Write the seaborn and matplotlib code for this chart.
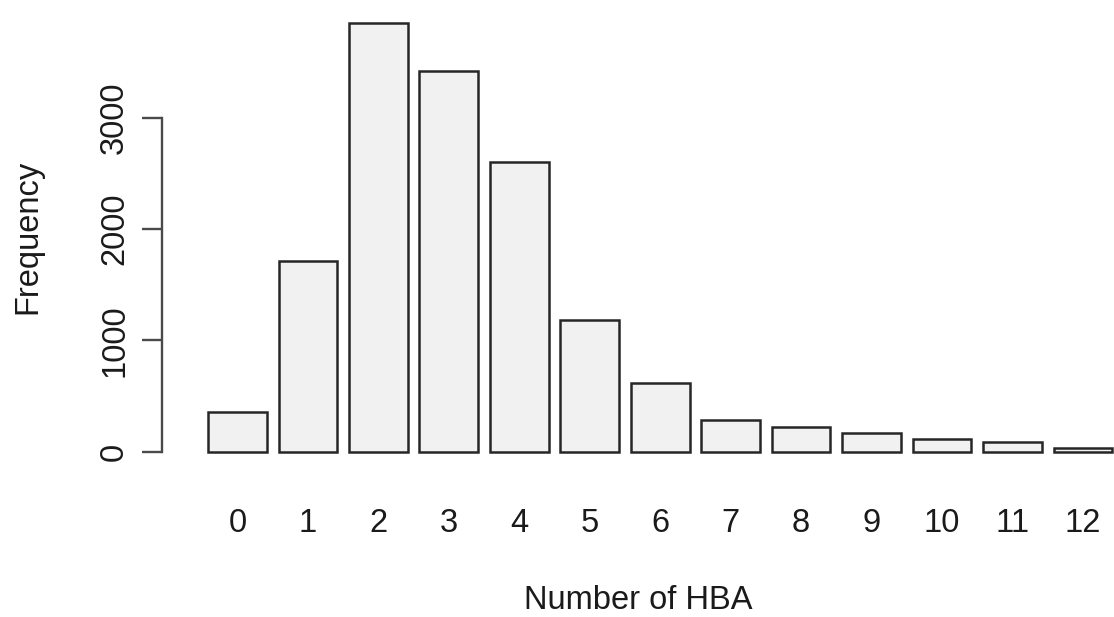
import matplotlib
matplotlib.use("Agg")
import matplotlib.pyplot as plt
import seaborn as sns
import pandas as pd

# ---- data ----
categories = ["0", "1", "2", "3", "4", "5", "6", "7", "8", "9", "10", "11", "12"]
frequency = [354, 1712, 3857, 3420, 2603, 1181, 620, 285, 219, 165, 111, 87, 30]
y_ticks = [0, 1000, 2000, 3000]
x_title = "Number of HBA"
y_title = "Frequency"

sns.set_theme(style="white")
plt.rcParams["font.family"] = ["Liberation Sans", "DejaVu Sans"]

W, H = 1114, 617
fig = plt.figure(figsize=(W / 100, H / 100), dpi=100)
fig.patch.set_facecolor("white")

# axes region in pixels (plot region)
left_px, right_px, top_px, bottom_px = 162, 1114, 5.5, 468.8
ax = fig.add_axes([left_px / W, 1 - bottom_px / H,
                   (right_px - left_px) / W, (bottom_px - top_px) / H])
ax.set_facecolor("white")

df = pd.DataFrame({"hba": categories, "freq": frequency})
sns.barplot(data=df, x="hba", y="freq", color="#f1f1f1", saturation=1,
            width=0.8333, edgecolor="#262626", linewidth=1.8, ax=ax)

ax.set_xlim(-1.0717, 12.442)
ax.set_ylim(-153.7, 4011.5)

for s in ["top", "right", "bottom"]:
    ax.spines[s].set_visible(False)
ax.spines["left"].set_bounds(0, 3000)
ax.spines["left"].set_color("#4a4a4a")
ax.spines["left"].set_linewidth(1.7)

txt = "#1a1a1a"
fs = 23.5
ax.set_yticks(y_ticks)
ax.set_yticklabels([str(v) for v in y_ticks], rotation=90, va="center",
                   fontsize=fs, color=txt)
ax.tick_params(axis="y", direction="out", length=14.4, width=1.7,
               color="#4a4a4a", pad=8.5, left=True)
ax.tick_params(axis="x", length=0, pad=28.0, labelsize=fs, labelcolor=txt)

ax.set_xlabel(x_title, fontsize=fs, color=txt)
ax.set_ylabel(y_title, fontsize=fs, color=txt)
ax.xaxis.set_label_coords(0.5, -0.251)
ax.yaxis.set_label_coords(-0.125, 0.5)

fig.savefig("out.png", dpi=100, facecolor="white")
